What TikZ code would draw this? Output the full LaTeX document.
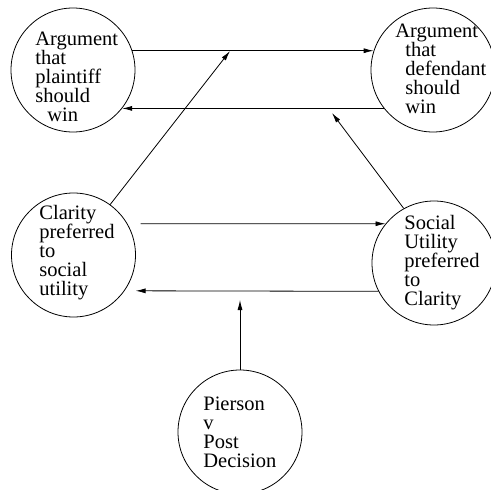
\documentclass[tikz,border=0pt]{standalone}
\usepackage{fontspec}
\setmainfont{Liberation Serif}
\usetikzlibrary{arrows.meta}
\tikzset{ o/.style = { circle % bubble
        , draw
        , line width = 0.8pt
        , minimum size = 124pt
        , inner sep = 0pt
        }
        , w/.style = { anchor = base west % words, placed at last line
        , align = left
        , inner sep = 0pt
        , font = \fontsize{20.5}{19}\selectfont
        }
        }
\begin{document}
\begin{tikzpicture}[x=1pt, y=-1pt, line width=0.8pt,
        edge_style/.style={draw=black, -{Latex[length=10pt,width=5pt]}}]
        \useasboundingbox (0,0) rectangle (491,490);

        \node [o](plaintiff) at (73,70) {};
        \node [o](defendant) at (433,70) {};
        \node [o](clarity) at (73.5,255) {};
        \node [o](utility) at (434,263) {};
        \node [o](pierson) at (240,432) {};

        \node [w](plaintiff_txt) at (35,121) {Argument\\that\\plaintiff\\should\\\hspace{12pt}win};
        \node [w](defendant_txt) at (395,113) {Argument\\\hspace{10pt}that\\\hspace{10pt}defendant\\\hspace{10pt}should\\\hspace{10pt}win};
        \node [w](clarity_txt) at (39,295) {Clarity\\preferred\\to\\social\\utility};
        \node [w](utility_txt) at (404,305) {Social\\Utility\\preferred\\to\\Clarity};
        \node [w](pierson_txt) at (203,467) {Pierson\\v\\Post\\Decision};

        \coordinate (hit1) at (230,51);
        \coordinate (hit2) at (332,113);
        \coordinate (hit3) at (240,300);

        \draw [edge_style] (plaintiff.18) -- (defendant.162);
        \draw [edge_style] (defendant.218) -- (plaintiff.-38);
        \draw [edge_style, shorten <=13pt] (clarity.30) -- (utility.141);
        \draw [edge_style, shorten >=11pt] (utility.207) -- (clarity.-35.5);
        \draw [edge_style] (clarity.54) -- (hit1);
        \draw [edge_style] (utility.119) -- (hit2);
        \draw [edge_style] (pierson.north) -- (hit3);
\end{tikzpicture}
\end{document}
